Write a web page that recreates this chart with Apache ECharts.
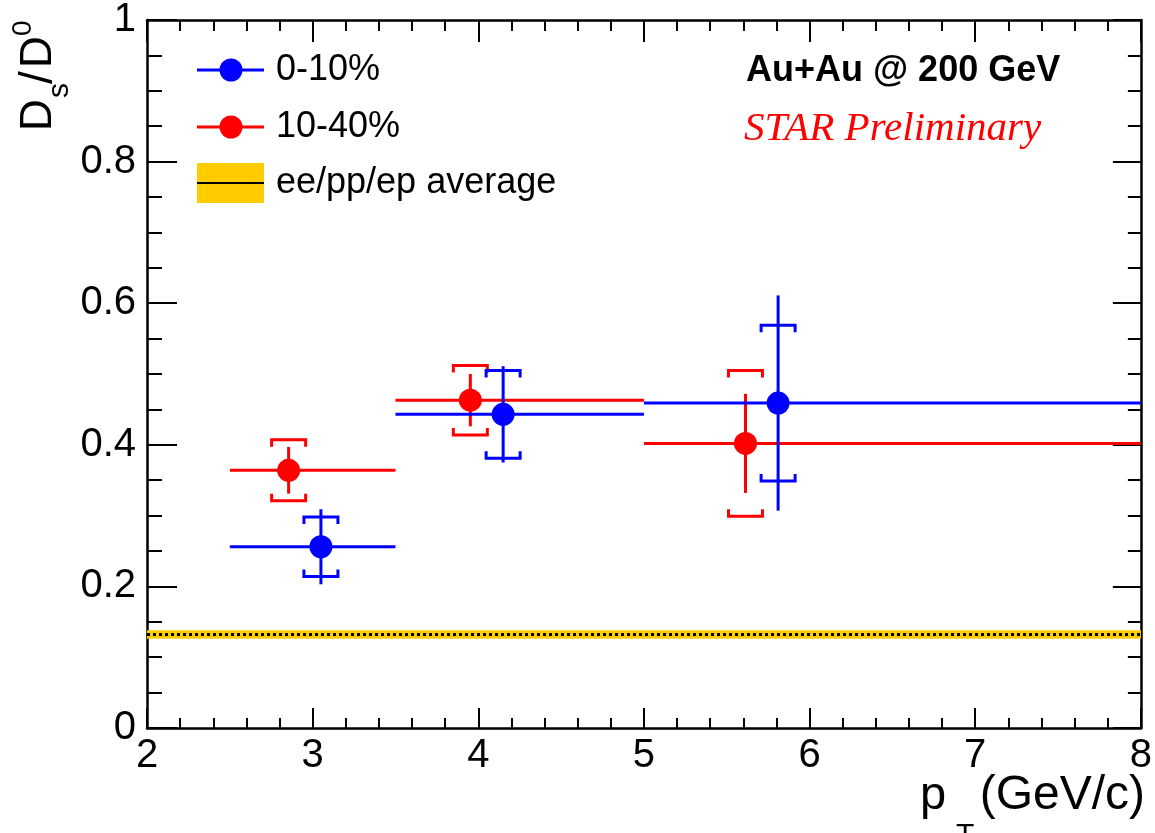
<!DOCTYPE html>
<html>
<head>
<meta charset="utf-8">
<title>Ds/D0 ratio vs pT</title>
<script src="https://cdn.jsdelivr.net/npm/echarts@6/dist/echarts.min.js"></script>
<style>
  html, body { margin: 0; padding: 0; background: #fff; }
  #chart { width: 1155px; height: 833px; }
</style>
</head>
<body>
<div id="chart"></div>
<script>
// pT bins shared by both centrality classes (GeV/c)
const binLow  = [2.5, 3.5, 5.0];
const binHigh = [3.5, 5.0, 8.0];

// 0-10% most central
const ptCentral    = [3.05, 4.15, 5.81];
const ratioCentral = [0.256, 0.443, 0.459];
const statCentral  = [0.053, 0.068, 0.152];
const sysCentral   = [0.042, 0.062, 0.110];

// 10-40% mid-central
const ptMid    = [2.855, 3.952, 5.613];
const ratioMid = [0.364, 0.463, 0.402];
const statMid  = [0.033, 0.037, 0.070];
const sysMid   = [0.043, 0.049, 0.103];

// ee/pp/ep fragmentation average and its uncertainty
const refAverage    = 0.132;
const refAverageErr = 0.006;

// axis ranges and tick labels
const xRange = [2, 8];
const yRange = [0, 1];
const legendLabels = ['0-10%', '10-40%', 'ee/pp/ep average'];

const FONT = 'Liberation Sans, Arial, Helvetica, sans-serif';

function buildPoints(pt, ratio, stat, sys) {
  return pt.map((x, i) => [x, ratio[i], binLow[i], binHigh[i], stat[i], sys[i]]);
}

// marker + horizontal bin width + vertical stat error + systematic brackets
function renderPoint(params, api) {
  const x = api.value(0), y = api.value(1);
  const lo = api.value(2), hi = api.value(3);
  const st = api.value(4), sy = api.value(5);
  const color = api.visual('color');
  const c = api.coord([x, y]);
  const pLo = api.coord([lo, y]);
  const pHi = api.coord([hi, y]);
  const sTop = api.coord([x, y + st]);
  const sBot = api.coord([x, y - st]);
  const yTop = api.coord([x, y + sy])[1];
  const yBot = api.coord([x, y - sy])[1];
  const hw = 17, arm = 7, lw = 3;
  const lineStyle = { stroke: color, lineWidth: lw, fill: null };
  return {
    type: 'group',
    children: [
      { type: 'line', shape: { x1: pLo[0], y1: pLo[1], x2: pHi[0], y2: pHi[1] }, style: lineStyle },
      { type: 'line', shape: { x1: sTop[0], y1: sTop[1], x2: sBot[0], y2: sBot[1] }, style: lineStyle },
      { type: 'polyline', shape: { points: [[c[0] - hw, yTop + arm], [c[0] - hw, yTop], [c[0] + hw, yTop], [c[0] + hw, yTop + arm]] }, style: lineStyle },
      { type: 'polyline', shape: { points: [[c[0] - hw, yBot - arm], [c[0] - hw, yBot], [c[0] + hw, yBot], [c[0] + hw, yBot - arm]] }, style: lineStyle },
      { type: 'circle', shape: { cx: c[0], cy: c[1], r: 11.5 }, style: { fill: color } }
    ]
  };
}

// horizontal reference band with dotted central line
function renderBand(params, api) {
  const avg = api.value(0), err = api.value(1);
  const p1 = api.coord([xRange[0], avg + err]);
  const p2 = api.coord([xRange[1], avg - err]);
  const pc1 = api.coord([xRange[0], avg]);
  const pc2 = api.coord([xRange[1], avg]);
  return {
    type: 'group',
    children: [
      { type: 'rect', shape: { x: p1[0], y: p1[1], width: p2[0] - p1[0], height: p2[1] - p1[1] }, style: { fill: '#ffcc00' } },
      { type: 'line', shape: { x1: pc1[0], y1: pc1[1], x2: pc2[0], y2: pc2[1] }, style: { stroke: '#000', lineWidth: 3, lineDash: [3, 3] } }
    ]
  };
}

const axisLineStyle = { color: '#000', width: 2.5 };
const tickStyle = { color: '#000', width: 2 };

function xAxisCfg(pos, showLabel, major, minor) {
  return {
    type: 'value', position: pos, min: xRange[0], max: xRange[1], interval: 1,
    axisLine: { show: true, onZero: false, lineStyle: axisLineStyle },
    axisTick: { show: true, inside: true, length: major, lineStyle: tickStyle },
    minorTick: { show: true, splitNumber: 5, length: minor, lineStyle: tickStyle },
    axisLabel: { show: showLabel, color: '#000', fontSize: 40, fontFamily: FONT, margin: 8 },
    splitLine: { show: false }, minorSplitLine: { show: false }
  };
}
function yAxisCfg(pos, showLabel, major, minor) {
  return {
    type: 'value', position: pos, min: yRange[0], max: yRange[1], interval: 0.2,
    axisLine: { show: true, onZero: false, lineStyle: axisLineStyle },
    axisTick: { show: true, inside: true, length: major, lineStyle: tickStyle },
    minorTick: { show: true, splitNumber: 4, length: minor, lineStyle: tickStyle },
    axisLabel: { show: showLabel, color: '#000', fontSize: 40, fontFamily: FONT, margin: 11 },
    splitLine: { show: false }, minorSplitLine: { show: false }
  };
}

function legendEntry(y, color, label) {
  return [
    { type: 'line', shape: { x1: 197, y1: y, x2: 264, y2: y }, style: { stroke: color, lineWidth: 3 } },
    { type: 'circle', shape: { cx: 231, cy: y, r: 11.5 }, style: { fill: color } },
    { type: 'text', x: 276, y: y, style: { text: label, fontSize: 36, fontFamily: FONT, fill: '#000', align: 'left', verticalAlign: 'middle' } }
  ];
}

const chart = echarts.init(document.getElementById('chart'), null, { renderer: 'canvas' });

chart.setOption({
  animation: false,
  backgroundColor: '#fff',
  grid: { left: 147, right: 12, top: 20, bottom: 105, containLabel: false },
  xAxis: [xAxisCfg('bottom', true, 20, 10), xAxisCfg('top', false, 22, 11)],
  yAxis: [yAxisCfg('left', true, 30, 15), yAxisCfg('right', false, 28, 13)],
  series: [
    {
      type: 'custom', name: legendLabels[2], xAxisIndex: 0, yAxisIndex: 0,
      renderItem: renderBand, data: [[refAverage, refAverageErr]], z: 2
    },
    {
      type: 'custom', name: legendLabels[1], xAxisIndex: 0, yAxisIndex: 0,
      itemStyle: { color: '#ff0000' }, clip: true,
      renderItem: renderPoint, data: buildPoints(ptMid, ratioMid, statMid, sysMid), z: 3
    },
    {
      type: 'custom', name: legendLabels[0], xAxisIndex: 0, yAxisIndex: 0,
      itemStyle: { color: '#0000ff' }, clip: true,
      renderItem: renderPoint, data: buildPoints(ptCentral, ratioCentral, statCentral, sysCentral), z: 4
    }
  ],
  graphic: [
    ...legendEntry(70, '#0000ff', legendLabels[0]),
    ...legendEntry(127, '#ff0000', legendLabels[1]),
    { type: 'rect', shape: { x: 197, y: 163, width: 67, height: 40 }, style: { fill: '#ffcc00' } },
    { type: 'line', shape: { x1: 197, y1: 183, x2: 264, y2: 183 }, style: { stroke: '#000', lineWidth: 2 } },
    { type: 'text', x: 276, y: 183, style: { text: legendLabels[2], fontSize: 36, fontFamily: FONT, fill: '#000', align: 'left', verticalAlign: 'middle' } },

    { type: 'text', x: 746, y: 71, style: { text: 'Au+Au @ 200 GeV', fontSize: 36, fontWeight: 'bold', fontFamily: FONT, fill: '#000', align: 'left', verticalAlign: 'middle' } },
    { type: 'text', x: 744, y: 129, style: { text: 'STAR Preliminary', fontSize: 41, fontStyle: 'italic', fontFamily: 'Liberation Serif, Times New Roman, serif', fill: '#ff0000', align: 'left', verticalAlign: 'middle' } },

    // x-axis title: p_T (GeV/c)
    { type: 'text', x: 920, y: 796, style: { text: 'p', fontSize: 47, fontFamily: FONT, fill: '#000', align: 'left', verticalAlign: 'middle' } },
    { type: 'text', x: 956, y: 836, style: { text: 'T', fontSize: 30, fontFamily: FONT, fill: '#000', align: 'left', verticalAlign: 'middle' } },
    { type: 'text', x: 1145, y: 796, style: { text: '(GeV/c)', fontSize: 48, fontFamily: FONT, fill: '#000', align: 'right', verticalAlign: 'middle' } },

    // y-axis title: D_s/D^0, reading bottom to top
    {
      type: 'group', x: 39, y: 131, rotation: Math.PI / 2,
      children: [
        { type: 'text', x: 0, y: 0, style: { text: 'D', fontSize: 44, fontFamily: FONT, fill: '#000', align: 'left', verticalAlign: 'middle' } },
        { type: 'text', x: 33, y: 21, style: { text: 's', fontSize: 30, fontFamily: FONT, fill: '#000', align: 'left', verticalAlign: 'middle' } },
        { type: 'text', x: 47, y: 0, style: { text: '/', fontSize: 46, fontFamily: FONT, fill: '#000', align: 'left', verticalAlign: 'middle' } },
        { type: 'text', x: 63, y: 0, style: { text: 'D', fontSize: 44, fontFamily: FONT, fill: '#000', align: 'left', verticalAlign: 'middle' } },
        { type: 'text', x: 95, y: -16, style: { text: '0', fontSize: 28, fontFamily: FONT, fill: '#000', align: 'left', verticalAlign: 'middle' } }
      ]
    }
  ]
});
</script>
</body>
</html>
